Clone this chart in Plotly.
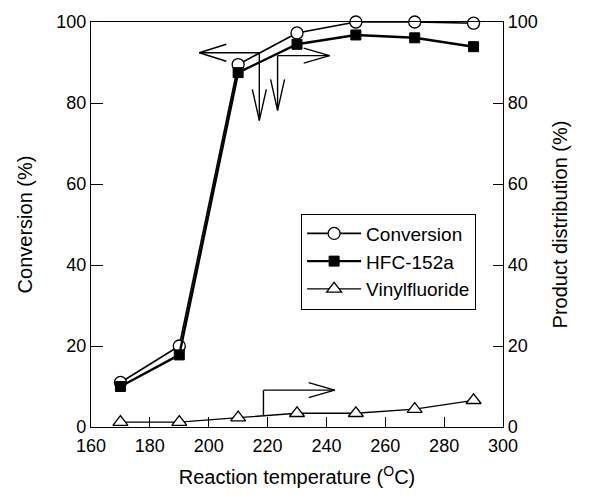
import plotly.graph_objects as go

temps = [170, 190, 210, 230, 250, 270, 290]
conversion = [11, 20, 89.5, 97.3, 100, 100, 99.7]
hfc152a = [10, 17.8, 87.5, 94.5, 96.8, 96.1, 93.9]
vinylfluoride = [1.2, 1.2, 2.3, 3.4, 3.4, 4.4, 6.6]

FONT = "Liberation Sans, Arial, sans-serif"

fig = go.Figure()
fig.add_trace(go.Scatter(
    x=temps, y=conversion, name="Conversion", mode="lines+markers",
    line=dict(color="black", width=1.6),
    marker=dict(symbol="circle", size=12, color="white", line=dict(color="black", width=1.3)),
    cliponaxis=False))
fig.add_trace(go.Scatter(
    x=temps, y=hfc152a, name="HFC-152a", mode="lines+markers", yaxis="y2",
    line=dict(color="black", width=2.4),
    marker=dict(symbol="square", size=10, color="black", line=dict(color="black", width=1)),
    cliponaxis=False))
fig.add_trace(go.Scatter(
    x=temps, y=vinylfluoride, name="Vinylfluoride", mode="lines+markers", yaxis="y2",
    line=dict(color="black", width=1.3),
    marker=dict(symbol="triangle-up", size=13, color="white", line=dict(color="black", width=1.3)),
    cliponaxis=False))

# arrows indicating which axis each curve belongs to: (x_tail, y_tail, x_head, y_head, direction)
arrows = [
    (217.2, 92.4, 196.8, 92.4, "left"),
    (217.2, 92.4, 217.2, 75.7, "down"),
    (223.4, 91.7, 241.1, 91.7, "right"),
    (223.4, 91.7, 223.4, 78.2, "down"),
    (218.6, 9.1, 242.8, 9.1, "right"),
]
LW = 1.4
shapes = [dict(type="line", xref="x", yref="y", x0=218.6, y0=2.9, x1=218.6, y1=9.1,
               line=dict(color="black", width=LW))]
heads = {"left": [(27, 8.5), (27, -8.5)], "right": [(-26, 7.5), (-26, -7.5)],
         "down": [(-7, 31), (7, 31)]}
for xt, yt, xh, yh, d in arrows:
    shapes.append(dict(type="line", xref="x", yref="y", x0=xt, y0=yt, x1=xh, y1=yh,
                       line=dict(color="black", width=LW)))
    for dx, dy in heads[d]:
        shapes.append(dict(type="line", xref="x", yref="y",
                           xsizemode="pixel", ysizemode="pixel", xanchor=xh, yanchor=yh,
                           x0=0, y0=0, x1=dx, y1=dy, line=dict(color="black", width=LW)))

fig.update_layout(
    width=592, height=501,
    margin=dict(l=91, r=89, t=19, b=74),
    paper_bgcolor="white", plot_bgcolor="white",
    font=dict(family=FONT, size=18, color="black"),
    showlegend=True,
    legend=dict(x=0.51, y=0.527, xanchor="left", yanchor="top",
                bordercolor="black", borderwidth=1, bgcolor="white",
                font=dict(size=19, family=FONT), tracegroupgap=0, itemwidth=54,
                entrywidth=184, entrywidthmode="pixels"),
    xaxis=dict(range=[160, 300], tickvals=[160, 180, 200, 220, 240, 260, 280, 300],
               ticks="inside", ticklen=10, tickcolor="black", tickwidth=1.2,
               showline=True, linecolor="black", linewidth=1.3, mirror=True,
               showgrid=False, zeroline=False, ticklabelstandoff=2,
               tickfont=dict(size=18),
               title=dict(text="Reaction temperature (<sup>O</sup>C)", standoff=15, font=dict(size=20))),
    yaxis=dict(range=[0, 100], tickvals=[0, 20, 40, 60, 80, 100],
               ticks="inside", ticklen=12, tickcolor="black", tickwidth=1.2,
               showline=True, linecolor="black", linewidth=1.3,
               showgrid=False, zeroline=False, tickfont=dict(size=18),
               title=dict(text="Conversion (%)", standoff=18, font=dict(size=20))),
    yaxis2=dict(range=[0, 100], tickvals=[0, 20, 40, 60, 80, 100], overlaying="y", side="right",
                ticks="inside", ticklen=10, tickcolor="black", tickwidth=1.2,
                showline=True, linecolor="black", linewidth=1.3,
                showgrid=False, zeroline=False, tickfont=dict(size=18),
                title=dict(text="Product distribution (%)", standoff=16, font=dict(size=20))),
    shapes=shapes,
)

fig.write_html("out.html")
